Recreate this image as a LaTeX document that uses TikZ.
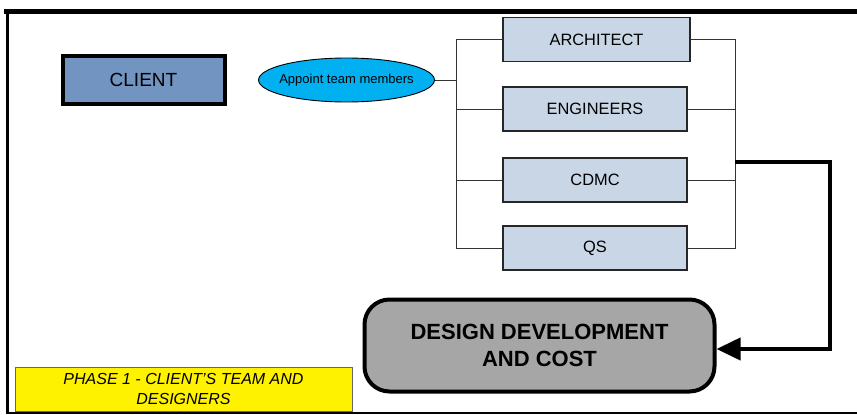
\documentclass[tikz,border=0pt]{standalone}
\usepackage{fontspec}
\setmainfont{Liberation Sans}
\usetikzlibrary{shapes.geometric,arrows.meta}
\definecolor{clientblue}{RGB}{114,148,192}
\definecolor{teambox}{RGB}{201,214,230}
\definecolor{cyanfill}{RGB}{0,176,240}
\definecolor{designgray}{RGB}{166,166,166}
\begin{document}
\begin{tikzpicture}[x=1pt,y=-1pt,
  teamrole/.style={draw=black!85,line width=1.4pt,fill=teambox,minimum width=184pt,minimum height=44pt,inner sep=0pt,font=\fontsize{16.4}{19}\selectfont},
  bus/.style={draw=black!80,line width=0.9pt}]
\useasboundingbox (0,0) rectangle (857,415);
% frame
\draw[line width=5pt] (4,11) -- (870,11);
\draw[line width=3pt] (7,9) -- (7,414);
\draw[line width=1.6pt] (6,413) -- (870,413);
% nodes
\node[draw=black,line width=4pt,fill=clientblue,minimum width=162pt,minimum height=48pt,inner sep=0pt,font=\fontsize{19}{22}\selectfont] (client) at (143.5,79.5) {CLIENT};
\node[ellipse,draw=black,line width=0.9pt,fill=cyanfill,minimum width=175pt,minimum height=44pt,inner xsep=-5pt,inner ysep=0pt,font=\fontsize{13}{15}\selectfont] (appoint) at (346.5,80) {Appoint team members};
\node[teamrole,minimum width=187pt] (arch) at (596.5,39.5) {ARCHITECT};
\node[teamrole] (eng) at (595,109) {ENGINEERS};
\node[teamrole] (cdmc) at (595,180) {CDMC};
\node[teamrole] (qs) at (595,248) {QS};
\node[draw=black,line width=4pt,fill=designgray,rounded corners=25pt,minimum width=350pt,minimum height=92pt,align=center,inner sep=0pt,font=\bfseries\fontsize{22}{27}\selectfont] (design) at (539.5,345.5) {DESIGN DEVELOPMENT\\AND COST};
\node[draw=black!60,line width=0.9pt,fill=yellow,minimum width=337pt,minimum height=44pt,align=center,inner sep=0pt,font=\itshape\fontsize{16}{19.5}\selectfont] (phase) at (183.5,389) {PHASE 1 - CLIENT’S TEAM AND\\DESIGNERS};
% buses
\coordinate (lb) at (456,0);
\coordinate (rb) at (735,0);
\coordinate (tap) at (735,162);
\coordinate (corner) at (830,162);
\coordinate (ay) at (0,349);
\draw[bus] (appoint.east) -- (appoint.east -| lb);
\draw[bus] (arch.west) -- (arch.west -| lb) -- (qs.west -| lb) -- (qs.west);
\draw[bus] (eng.west) -- (eng.west -| lb);
\draw[bus] (cdmc.west) -- (cdmc.west -| lb);
\draw[bus] (arch.east) -- (arch.east -| rb) -- (qs.east -| rb) -- (qs.east);
\draw[bus] (eng.east) -- (eng.east -| rb);
\draw[bus] (cdmc.east) -- (cdmc.east -| rb);
% thick connector
\draw[line width=4pt,-{Triangle[length=24pt,width=22pt]}] (tap) -- (corner) |- (design.east |- ay);
\end{tikzpicture}
\end{document}
